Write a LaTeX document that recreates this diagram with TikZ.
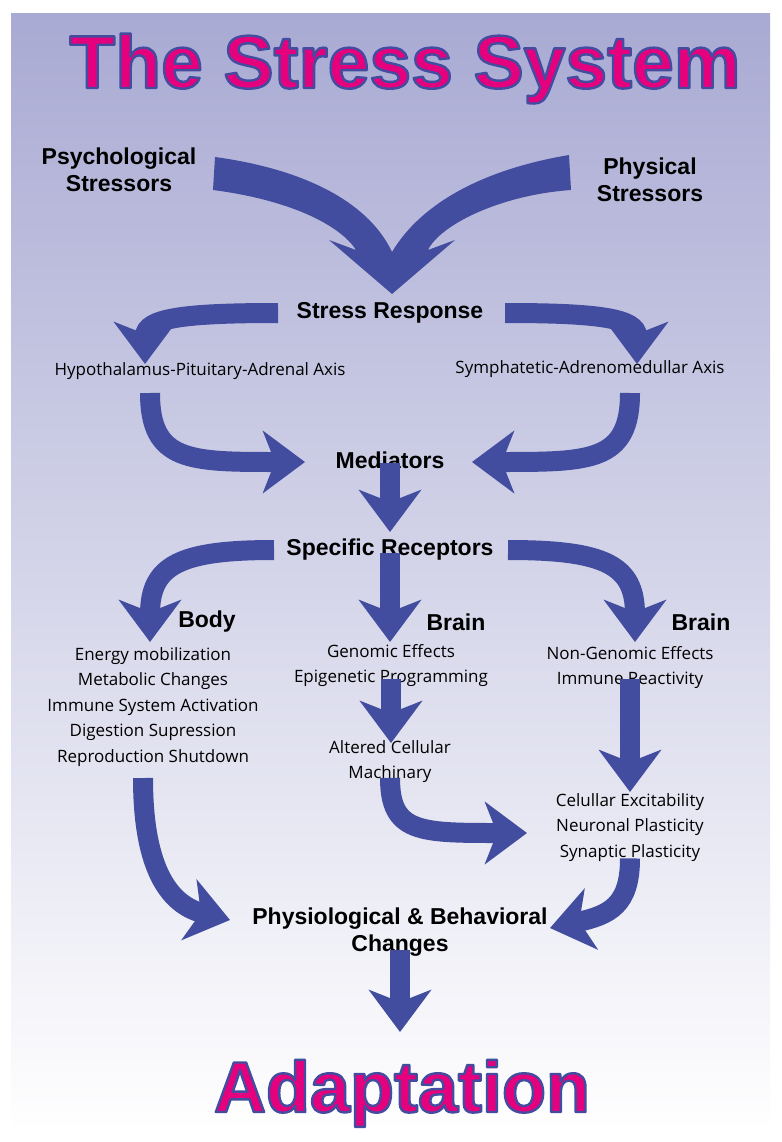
\documentclass[tikz,border=0pt]{standalone}
\usepackage{fontspec}
\setmainfont{Liberation Sans}
\newfontfamily\osans{Open Sans}
\usetikzlibrary{arrows.meta}
\definecolor{ab}{HTML}{434DA0}
\definecolor{pk}{HTML}{E5007E}
\definecolor{bgt}{HTML}{A9AAD3}
\newcommand{\outl}[1]{\special{pdf:literal direct 0.263 0.302 0.627 RG 2.4 w 1 j 2 Tr}#1\special{pdf:literal direct 0 Tr}}
\begin{document}
\begin{tikzpicture}[x=1pt,y=-1pt,
  lbl/.style={font=\bfseries\fontsize{23}{27}\selectfont,align=center,inner sep=0},
  txt/.style={font=\osans\fontsize{17}{25.5}\selectfont,align=center,inner sep=0},
  arr/.style={draw=ab,line width=20pt,-{Stealth[length=42pt,width=62pt,inset=12pt]}},
  big/.style={font=\bfseries\fontsize{#1}{#1}\selectfont,inner sep=0}]
\useasboundingbox (0,0) rectangle (781,1142);
\fill[white] (0,0) rectangle (781,1142);
\shade[top color=bgt,bottom color=white] (11,14) rectangle (770,1132);
\node (title)[big=75,text=pk,anchor=base] at (405,88) {\outl{The Stress System}};
\node (adapt)[big=72,text=pk,anchor=base] at (402,1112) {\outl{Adaptation}};
% labels
\node (psy)[lbl] at (119,170) {Psychological\\Stressors};
\node (phy)[lbl] at (650,180) {Physical\\Stressors};
\node (sr)[lbl] at (390,313) {Stress Response};
\node (hpa)[txt] at (200,371) {Hypothalamus-Pituitary-Adrenal Axis};
\node (sam)[txt] at (590,369) {Symphatetic-Adrenomedullar Axis};
\node (med)[lbl] at (390,460) {Mediators};
\node (rec)[lbl] at (390,550) {Specific Receptors};
\node (body)[lbl] at (207,622) {Body};
\node (brain1)[lbl] at (456,622) {Brain};
\node (brain2)[lbl] at (701,622) {Brain};
\node (bl)[txt,anchor=north] at (153,647) {Energy mobilization\\Metabolic Changes\\Immune System Activation\\Digestion Supression\\Reproduction Shutdown};
\node (gen)[txt,anchor=north] at (391,644) {Genomic Effects\\Epigenetic Programming};
\node (alt)[txt,anchor=north] at (390,740) {Altered Cellular\\Machinary};
\node (ng)[txt,anchor=north] at (630,646) {Non-Genomic Effects\\Immune Reactivity};
\node (cel)[txt,anchor=north] at (630,793) {Celullar Excitability\\Neuronal Plasticity\\Synaptic Plasticity};
\node (pbc)[lbl] at (400,932) {Physiological \& Behavioral\\Changes};
% connector end points
\coordinate (srL) at (278,313); \coordinate (hpaT) at (145,364);
\coordinate (srR) at (505,313); \coordinate (samT) at (637,364);
\coordinate (hpaB) at (150,393); \coordinate (medL) at (305,462);
\coordinate (samB) at (630,393); \coordinate (medR) at (472,462);
\coordinate (recL) at (274,550); \coordinate (bodyT) at (150,642);
\coordinate (recR) at (508,550); \coordinate (brT) at (635,642);
\coordinate (celL) at (527,833); \coordinate (pbcR) at (550,928);
\coordinate (blB) at (143,778); \coordinate (pbcL) at (230,920);
% big V arrow
\coordinate (vtip) at (392,294);
\fill[ab] (215,157) .. controls (310,170) and (370,205) .. (392,252)
          .. controls (420,205) and (480,170) .. (569,155)
          -- (571,190) .. controls (500,195) and (440,225) .. (428,250)
          -- (455,240) -- (vtip) -- (329,240) -- (356,250)
          .. controls (340,225) and (290,200) .. (213,190) -- cycle;
\draw[arr] (srL) .. controls (185,313) and (145,318) .. (hpaT);
\draw[arr] (srR) .. controls (597,313) and (637,318) .. (samT);
\draw[arr] (hpaB) .. controls (150,462) and (190,462) .. (medL);
\draw[arr] (samB) .. controls (630,462) and (590,462) .. (medR);
\draw[arr] ([yshift=6]med.south) -- (390,532);
\draw[arr] (recL) .. controls (180,550) and (150,565) .. (bodyT);
\draw[arr] (recR) .. controls (605,550) and (635,565) .. (brT);
\draw[arr] ([yshift=8]rec.south) -- (390,642);
\draw[arr] ([yshift=8]gen.south) -- (391,743);
\draw[arr] ([yshift=10]ng.south) -- (630,792);
\draw[arr] ([yshift=5]alt.south) .. controls (390,833) and (420,833) .. (celL);
\draw[arr] ([yshift=3]cel.south) .. controls (630,905) and (610,915) .. (pbcR);
\draw[arr] (blB) .. controls (143,870) and (170,905) .. (pbcL);
\draw[arr] ([yshift=6]pbc.south) -- (400,1032);
\end{tikzpicture}
\end{document}
